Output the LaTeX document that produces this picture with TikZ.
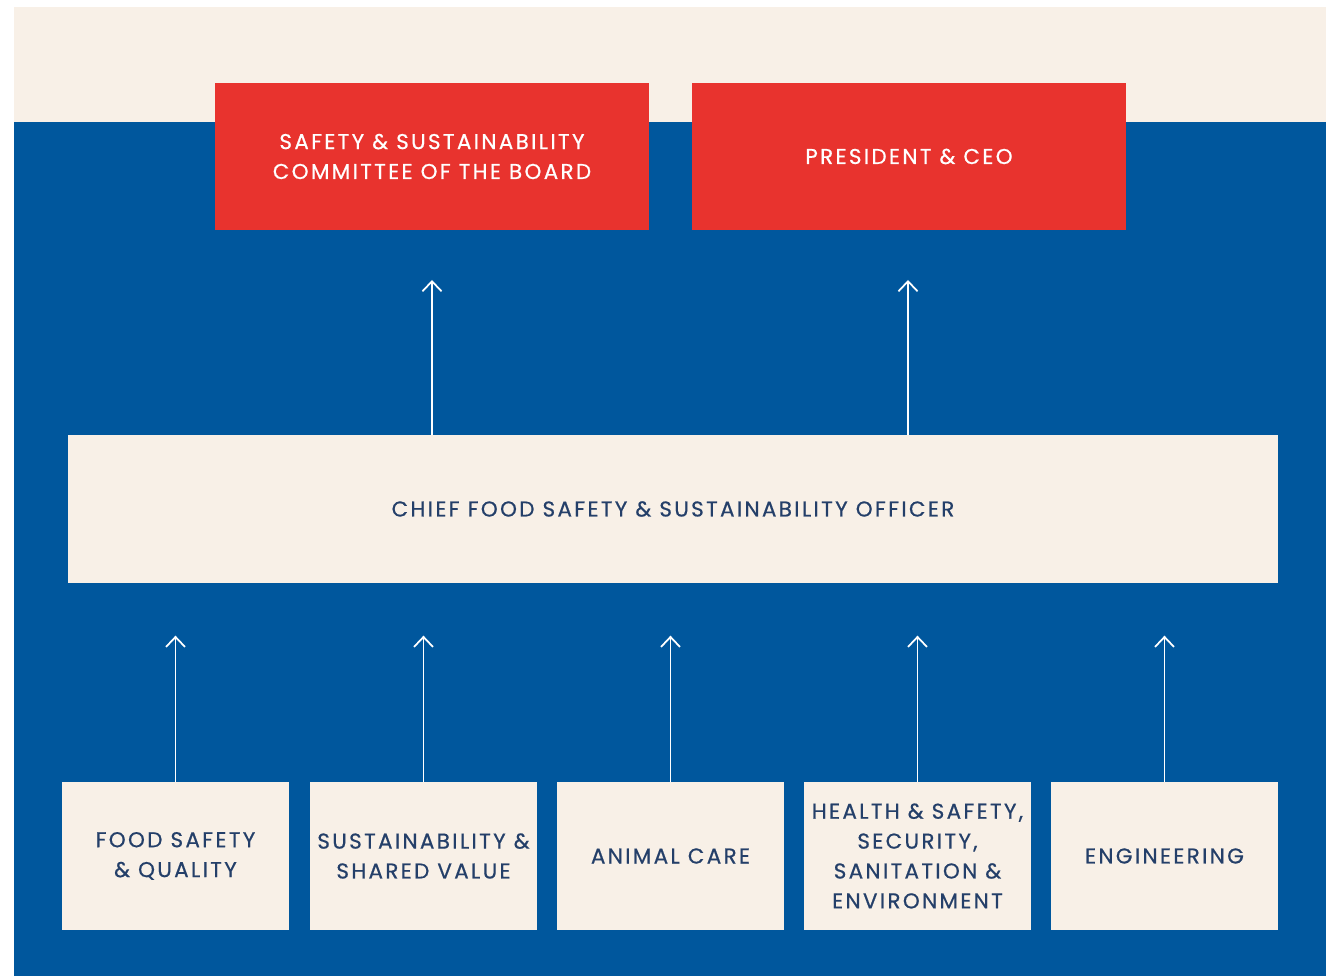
\documentclass[tikz,border=0pt]{standalone}
\usepackage{fontspec}
\setmainfont{Poppins}
\newfontfamily\labfont{Poppins}[LetterSpace=11, FakeBold=0.6]
\usetikzlibrary{arrows.meta}
\definecolor{cream}{HTML}{F8F0E7}
\definecolor{bblue}{HTML}{00579D}
\definecolor{bred}{HTML}{E8332E}
\definecolor{navy}{HTML}{243F69}
\tikzset{
  redbox/.style={fill=bred, text=white, minimum width=4.34cm, minimum height=1.47cm, inner sep=0pt, align=center, font=\labfont\fontsize{6.1}{8.5}\selectfont},
  creambox/.style={fill=cream, text=navy, minimum height=1.47cm, inner sep=0pt, align=center, font=\labfont\fontsize{6.1}{8.5}\selectfont},
  smallbox/.style={creambox, minimum width=2.27cm},
  arr/.style={draw=white, line width=0.5pt, -{Straight Barb[length=0.1cm, width=0.19cm, line width=0.5pt]}}
}
\begin{document}
\begin{tikzpicture}[x=0.01cm, y=-0.01cm]
\fill[white] (0,0) rectangle (1332,976);
\useasboundingbox (0,0) rectangle (1332,976);
\fill[cream] (14,7) rectangle (1326,122);
\fill[bblue] (14,122) rectangle (1326,976);

\node[redbox] (board) at (432,156.5) {SAFETY \& SUSTAINABILITY\\COMMITTEE OF THE BOARD};
\node[redbox] (ceo) at (909,156.5) {PRESIDENT \& CEO};
\node[creambox, minimum width=12.10cm] (chief) at (673,509) {CHIEF FOOD SAFETY \& SUSTAINABILITY OFFICER};

\node[smallbox] (fsq) at (175.5,856) {FOOD SAFETY\\\& QUALITY};
\node[smallbox] (ssv) at (423.5,856) {SUSTAINABILITY \&\\SHARED VALUE};
\node[smallbox] (ac) at (670.5,856) {ANIMAL CARE};
\node[smallbox] (hss) at (917.5,856) {HEALTH \& SAFETY,\\SECURITY,\\SANITATION \&\\ENVIRONMENT};
\node[smallbox] (eng) at (1164.5,856) {ENGINEERING};

\coordinate (tb) at (432,280);
\coordinate (tc) at (908,280);
\draw[arr] (chief.north -| tb) -- (tb);
\draw[arr] (chief.north -| tc) -- (tc);

\foreach \n in {fsq,ssv,ac,hss,eng}{
  \coordinate (t\n) at ([yshift=1.46cm]\n.north);
  \draw[arr] (\n.north) -- (t\n);
}
\end{tikzpicture}
\end{document}
